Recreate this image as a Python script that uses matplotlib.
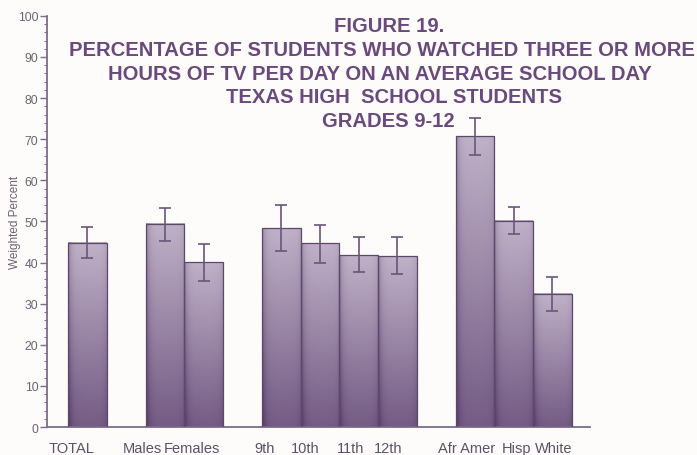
import numpy as np
import matplotlib
matplotlib.use("Agg")
import matplotlib.pyplot as plt
from matplotlib.colors import LinearSegmentedColormap

# data
categories = ["TOTAL", "Males", "Females", "9th", "10th", "11th", "12th",
              "Afr Amer", "Hisp", "White"]
percent = [44.8, 49.4, 40.1, 48.3, 44.7, 41.8, 41.5, 70.7, 50.2, 32.4]
err_low = [41.0, 45.3, 35.4, 42.7, 39.9, 37.6, 37.2, 66.2, 47.0, 28.1]
err_high = [48.6, 53.3, 44.6, 54.0, 49.1, 46.2, 46.1, 75.1, 53.6, 36.6]
title_lines = ["FIGURE 19.",
               "PERCENTAGE OF STUDENTS WHO WATCHED THREE OR MORE",
               "HOURS OF TV PER DAY ON AN AVERAGE SCHOOL DAY",
               "TEXAS HIGH  SCHOOL STUDENTS",
               "GRADES 9-12"]

# layout
bar_x = np.array([0, 2, 3, 5, 6, 7, 8, 10, 11, 12], dtype=float)
label_x = np.array([-0.41, 1.41, 2.70, 4.56, 5.62, 6.78, 7.76, 9.78, 11.07, 12.03])
width = 1.0
title_cx = [389, 382, 380, 394, 388]      # pixel centres of each title line
title_base = [32, 56, 80, 103, 127]       # pixel baselines

plt.rcParams['font.family'] = ['Liberation Sans', 'DejaVu Sans']
axis_col = "#7d6c88"
text_col = "#6a4a7c"
label_col = "#5e5068"

fig = plt.figure(figsize=(6.97, 4.56), dpi=100)
fig.patch.set_facecolor("#fdfcfb")
ax = fig.add_axes([0.067, 0.0614, 0.780, 0.9016])
ax.set_facecolor("none")

cmap = LinearSegmentedColormap.from_list("bar", ["#5a3f6c", "#8f7a9c", "#c4b7cc"])
gy = np.linspace(0, 1, 64)[:, None]
gx = np.linspace(0, 1, 32)[None, :]
grad = 0.25 + 0.7 * gy - 0.35 * np.exp(-gx / 0.08) - 0.1 * np.exp(-(1 - gx) / 0.08)
grad = np.clip(grad, 0, 1)

for x, h in zip(bar_x, percent):
    left = x - width / 2
    ax.imshow(grad, cmap=cmap, vmin=0, vmax=1, origin="lower", aspect="auto",
              extent=[left, left + width, 0, h], interpolation="bilinear", zorder=2)
    ax.add_patch(plt.Rectangle((left, 0), width, h, fill=False,
                               edgecolor="#5c4868", lw=0.9, zorder=3))

yerr = [np.array(percent) - np.array(err_low), np.array(err_high) - np.array(percent)]
ax.errorbar(bar_x, percent, yerr=yerr, fmt="none", ecolor="#6a5678",
            elinewidth=1.2, capsize=4.5, capthick=1.2, zorder=4)

ax.set_xlim(-1.05, 12.98)
ax.set_ylim(0, 100)
ax.set_yticks(np.arange(0, 101, 10))
ax.set_yticks(np.arange(0, 101, 2), minor=True)
ax.tick_params(axis="y", which="major", direction="out", length=5, width=1,
               color=axis_col, labelcolor="#6d6272", labelsize=8.8, pad=1)
ax.tick_params(axis="y", which="minor", direction="out", length=2.5, width=0.7,
               color=axis_col)
ax.set_xticks([])
for side in ["top", "right"]:
    ax.spines[side].set_visible(False)
for side in ["left", "bottom"]:
    ax.spines[side].set_color(axis_col)
    ax.spines[side].set_linewidth(1.3)

for x, name in zip(label_x, categories):
    ax.text(x, -3.5, name, ha="center", va="top", fontsize=10.5, color=label_col)

fig.text(0.022, 1 - 222 / 456, "Weighted Percent", rotation=90, ha="center",
         va="center", fontsize=8.5, color="#6d6272")

for line, cx, yb in zip(title_lines, title_cx, title_base):
    fig.text(cx / 697, 1 - yb / 456, line, ha="center", va="baseline",
             fontsize=14.6, fontweight="bold", color=text_col)

fig.savefig("out.png", dpi=100, facecolor=fig.get_facecolor())
